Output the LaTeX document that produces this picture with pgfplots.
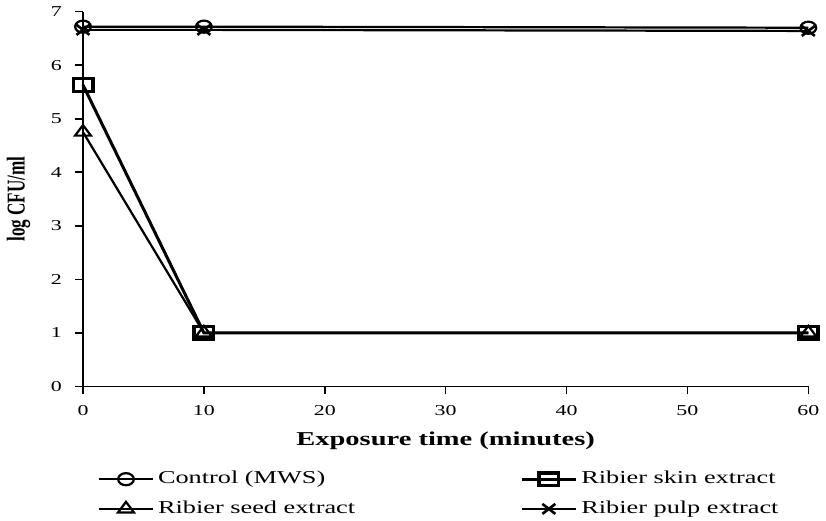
\documentclass[border=0pt]{standalone}
\usepackage{fontspec}
\setmainfont{Liberation Serif}[FakeStretch=1.45]
\newfontfamily\plainserif{Liberation Serif}
\usepackage{graphicx}
\usepackage{pgfplots}
\pgfplotsset{compat=1.18}
\begin{document}
\begin{tikzpicture}
\begin{axis}[
  scale only axis,
  width=360pt, height=186pt,
  xmin=0, xmax=60, ymin=0, ymax=7,
  xtick={0,10,20,30,40,50,60},
  ytick={0,1,2,3,4,5,6,7},
  axis x line*=bottom, axis y line*=left,
  axis line style={line width=0.8pt, -},
  tick style={line width=0.8pt, black},
  tick align=outside,
  major tick length=4pt,
  /pgf/number format/assume math mode=true,
  tick label style={font=\fontsize{7.5}{9}\selectfont},
  yticklabel style={xshift=-3pt},
  xticklabel style={yshift=-2pt},
  xlabel={\textbf{Exposure time (minutes)}},
  xlabel style={font=\fontsize{9.75}{11}\selectfont, yshift=-1pt},
  ylabel={\scalebox{1}[1.5]{\plainserif\bfseries log CFU/ml}},
  ylabel style={font=\fontsize{8.5}{10}\selectfont, at={(axis description cs:-0.089,0.5)}, anchor=center},
  clip=false,
  legend columns=2,
  legend style={draw=none, at={(axis description cs:0.02,-0.215)}, anchor=north west,
    font=\fontsize{9}{11}\selectfont, row sep=3pt, inner sep=0pt,
    /tikz/every even column/.append style={column sep=80pt}},
  legend cell align=left,
  legend image code/.code={\draw[mark repeat=2,mark phase=2,#1] plot coordinates {(0cm,0cm) (0.47cm,0cm) (0.94cm,0cm)};},
  every axis plot/.append style={black, line width=1.1pt},
]
\addplot[mark=o, mark options={line width=1.1pt, xscale=1.3, fill=white}, mark size=3pt]
  coordinates {(0,6.72) (10,6.72) (60,6.70)};
\addlegendentry{Control (MWS)}
\addplot[mark=square, line width=1.5pt, mark options={line width=1.8pt, xscale=1.5, fill=white}, mark size=3.2pt]
  coordinates {(0,5.63) (10,1.0) (60,1.0)};
\addlegendentry{Ribier skin extract}
\addplot[mark=triangle, mark options={line width=1.1pt, xscale=1.3, fill=white}, mark size=3.5pt]
  coordinates {(0,4.75) (10,1.0) (60,1.0)};
\addlegendentry{Ribier seed extract}
\addplot[mark=x, mark options={line width=1.3pt, xscale=1.3}, mark size=3.5pt]
  coordinates {(0,6.66) (10,6.66) (60,6.64)};
\addlegendentry{Ribier pulp extract}
\end{axis}
\end{tikzpicture}
\end{document}
